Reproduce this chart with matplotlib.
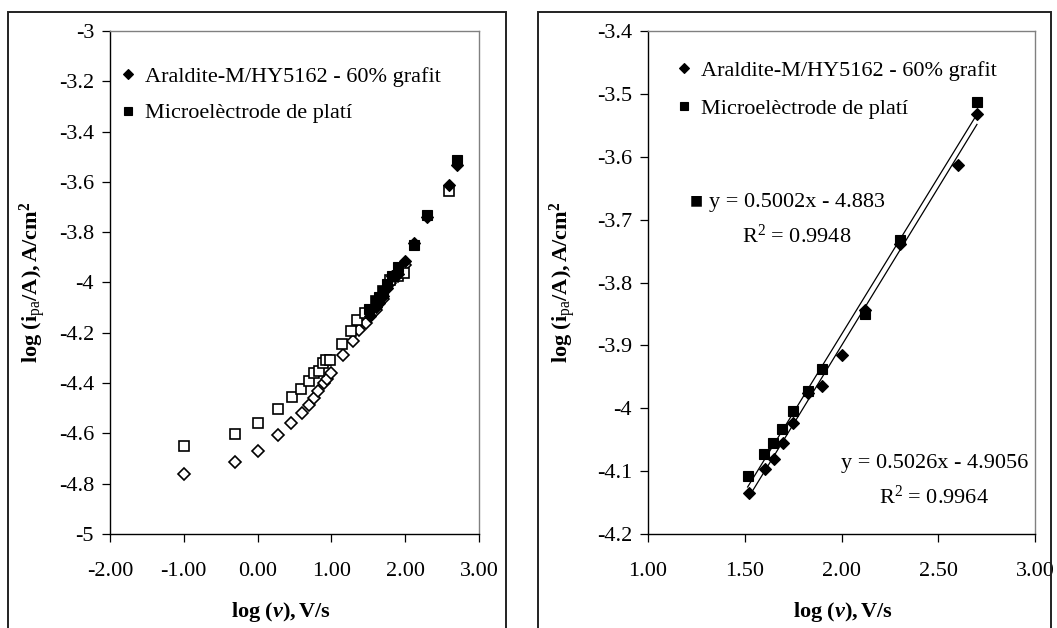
import numpy as np
import matplotlib
matplotlib.use("Agg")
import matplotlib.pyplot as plt
from matplotlib.patches import Rectangle
from matplotlib.ticker import FixedLocator, FuncFormatter

# ---- values ----
# full scan-rate range, open markers (left panel only)
x_ara_open = [-1.00, -0.30, 0.00, 0.28, 0.45, 0.60, 0.70, 0.77, 0.82, 0.90, 0.94, 1.00,
              1.16, 1.29, 1.38, 1.47, 1.60, 1.70, 1.80, 1.90, 2.00]
y_ara_open = [-4.761, -4.714, -4.669, -4.606, -4.557, -4.520, -4.487, -4.459, -4.433, -4.400,
              -4.383, -4.360, -4.290, -4.234, -4.190, -4.160, -4.110, -4.065, -4.000, -3.975, -3.930]
x_pt_open = [-1.00, -0.30, 0.00, 0.28, 0.46, 0.59, 0.69, 0.76, 0.83, 0.88, 0.93, 0.98,
             1.15, 1.27, 1.35, 1.45, 1.60, 1.70, 1.80, 1.90, 1.99, 2.60]
y_pt_open = [-4.652, -4.603, -4.560, -4.502, -4.457, -4.424, -4.393, -4.360, -4.350, -4.320,
             -4.310, -4.310, -4.244, -4.194, -4.150, -4.120, -4.075, -4.035, -3.990, -3.975,
             -3.961, -3.635]

# high scan-rate range, filled markers (both panels)
x_ara = [1.52, 1.605, 1.65, 1.70, 1.75, 1.825, 1.90, 2.00, 2.12, 2.30, 2.60, 2.70]
y_ara = [-4.135, -4.097, -4.080, -4.055, -4.023, -3.976, -3.965, -3.915, -3.843, -3.738,
         -3.613, -3.532]
x_pt = [1.515, 1.60, 1.648, 1.694, 1.748, 1.825, 1.898, 2.12, 2.30, 2.70]
y_pt = [-4.107, -4.073, -4.056, -4.033, -4.004, -3.973, -3.938, -3.850, -3.733, -3.513]

# trendlines as printed on the chart (slope, intercept, R2)
fit_ara = (0.5026, -4.9056, 0.9964)
fit_pt = (0.5002, -4.883, 0.9948)

label_ara = "Araldite-M/HY5162 - 60% grafit"
label_pt = "Microelèctrode de platí"

plt.rcParams['font.family'] = ['Liberation Serif', 'DejaVu Serif']
plt.rcParams['font.size'] = 16
plt.rcParams['axes.unicode_minus'] = False
plt.rcParams['mathtext.fontset'] = 'custom'
plt.rcParams['mathtext.rm'] = 'Liberation Serif'
plt.rcParams['mathtext.it'] = 'Liberation Serif:italic'
plt.rcParams['mathtext.bf'] = 'Liberation Serif:bold'
plt.rcParams['mathtext.bfit'] = 'Liberation Serif:italic:bold'

W, H = 1057, 628
fig = plt.figure(figsize=(W / 100, H / 100), dpi=100)

# outer chart frames (cut off at the bottom in the source)
for x0, x1 in [(8, 506), (538, 1051)]:
    fig.patches.append(Rectangle((x0 / W, -0.1), (x1 - x0) / W, 1.1 - 12 / H,
                                 transform=fig.transFigure, fill=False,
                                 edgecolor='#222222', lw=1.4))

ax1 = fig.add_axes([110 / W, (H - 534) / H, 369 / W, 503 / H])
ax2 = fig.add_axes([648 / W, (H - 534) / H, 387 / W, 503 / H])

ylab = r'$\mathbf{log\ (i}_{\mathrm{pa}}\mathbf{/A),A/cm}^{\mathbf{2}}$'
xlab = r'$\mathbf{log\ (}\mathbfit{v}\mathbf{),V/s}$'


def yfmt(v, pos):
    return '%g' % round(v, 2)


def style(ax, xlim, ylim, xt, yt, ylab_x, xlab_x):
    ax.set_xlim(xlim)
    ax.set_ylim(ylim)
    ax.xaxis.set_major_locator(FixedLocator(xt))
    ax.yaxis.set_major_locator(FixedLocator(yt))
    ax.xaxis.set_major_formatter(FuncFormatter(lambda v, p: '%.2f' % v))
    ax.yaxis.set_major_formatter(FuncFormatter(yfmt))
    for s in ['left', 'bottom']:
        ax.spines[s].set_color('black')
        ax.spines[s].set_linewidth(1.0)
    for s in ['top', 'right']:
        ax.spines[s].set_color('#808080')
        ax.spines[s].set_linewidth(1.0)
    ax.tick_params(axis='both', direction='out', length=5.5, width=0.9, labelsize=16)
    ax.tick_params(axis='x', pad=15)
    ax.tick_params(axis='y', pad=6)
    ax.set_ylabel(ylab, fontsize=16, va='center')
    ax.yaxis.set_label_coords(ylab_x, 0.5)
    ax.set_xlabel(xlab, fontsize=16, va='center')
    ax.xaxis.set_label_coords(xlab_x, -0.155)


def filled(ax):
    h1, = ax.plot(x_ara, y_ara, 'D', ms=6.2, mfc='black', mec='black', mew=0.8,
                  ls='none', zorder=4)
    h2, = ax.plot(x_pt, y_pt, 's', ms=7.6, mfc='black', mec='black', mew=0.8,
                  ls='none', zorder=5)
    return h1, h2


# left panel
ax1.plot(x_ara_open, y_ara_open, 'D', ms=6.2, mfc='white', mec='black', mew=1.2,
         ls='none', zorder=3)
ax1.plot(x_pt_open, y_pt_open, 's', ms=7.6, mfc='white', mec='black', mew=1.2,
         ls='none', zorder=3)
h1, h2 = filled(ax1)
style(ax1, (-2, 3), (-5, -3), np.arange(-2, 3.01, 1), np.arange(-5, -2.99, 0.2),
      -0.209, 0.463)
ax1.legend([h1, h2], [label_ara, label_pt], loc='upper left',
           bbox_to_anchor=(0.031, 0.93), frameon=False, fontsize=16,
           handlelength=0.6, handletextpad=0.45, labelspacing=0.72,
           borderpad=0, borderaxespad=0, markerscale=0.85)

# right panel
h1, h2 = filled(ax2)
for (m, b, r2), xs in [(fit_ara, x_ara), (fit_pt, x_pt)]:
    xx = np.array([min(xs), max(xs)])
    ax2.plot(xx, m * xx + b, color='black', lw=0.9, zorder=3)
style(ax2, (1, 3), (-4.2, -3.4), np.arange(1, 3.01, 0.5), np.arange(-4.2, -3.39, 0.1),
      -0.22, 0.504)
ax2.legend([h1, h2], [label_ara, label_pt], loc='upper left',
           bbox_to_anchor=(0.076, 0.941), frameon=False, fontsize=16,
           handlelength=0.6, handletextpad=0.45, labelspacing=0.78,
           borderpad=0, borderaxespad=0, markerscale=0.85)

ax2.text(1.77, -3.701, 'y = %.4fx - %.3f\nR$^2$ = %.4f' % (fit_pt[0], -fit_pt[1], fit_pt[2]),
         ha='center', va='center', multialignment='center', linespacing=1.7, fontsize=16)
ax2.text(1.25, -3.670, '\u25a0', ha='center', va='center', fontsize=10,
         family=['DejaVu Sans'])
ax2.text(2.48, -4.116, 'y = %.4fx - %.4f\nR$^2$ = %.4f' % (fit_ara[0], -fit_ara[1], fit_ara[2]),
         ha='center', va='center', multialignment='center', linespacing=1.7, fontsize=16)

fig.savefig('out.png', dpi=100)
